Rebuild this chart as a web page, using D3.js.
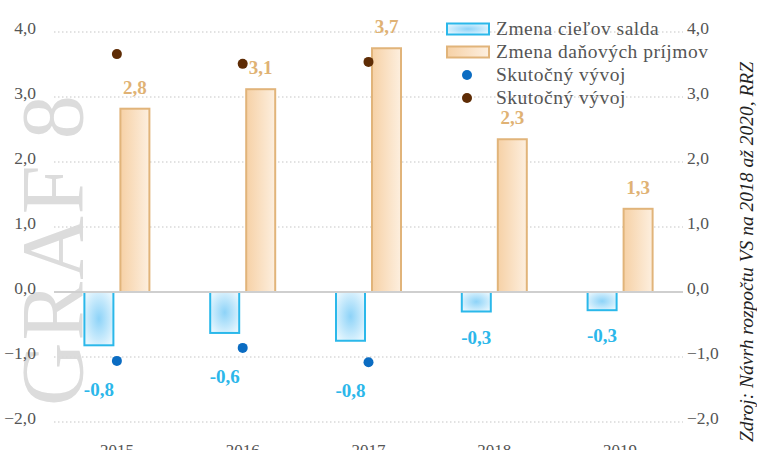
<!DOCTYPE html>
<html>
<head>
<meta charset="utf-8">
<script src="https://cdn.jsdelivr.net/npm/d3@7"></script>
<style>
  body { margin: 0; background: #fff; }
  svg { display: block; font-family: "Liberation Serif", "DejaVu Serif", serif; }
  svg text { font-family: "Liberation Serif", "DejaVu Serif", serif; }
</style>
</head>
<body>
<script>
// Data
var years = ["2015", "2016", "2017", "2018", "2019"];
var saldo = [-0.82, -0.63, -0.75, -0.30, -0.28];          // Zmena cieľov salda
var saldoLabels = ["-0,8", "-0,6", "-0,8", "-0,3", "-0,3"];
var prijmy = [2.82, 3.12, 3.75, 2.35, 1.28];              // Zmena daňových príjmov
var prijmyLabels = ["2,8", "3,1", "3,7", "2,3", "1,3"];
var saldoActual = [-1.06, -0.86, -1.08, null, null];      // Skutočný vývoj (blue)
var prijmyActual = [3.66, 3.51, 3.54, null, null];        // Skutočný vývoj (brown)
var yTicks = [-2, -1, 0, 1, 2, 3, 4];

var width = 757, height = 450;
var left = 54, right = 683;

var svg = d3.select("body").append("svg")
    .attr("width", width)
    .attr("height", height);

var defs = svg.append("defs");
var rg = defs.append("radialGradient").attr("id", "blueFill")
    .attr("cx", "50%").attr("cy", "50%").attr("r", "60%");
rg.append("stop").attr("offset", "0%").attr("stop-color", "#8dd3f8");
rg.append("stop").attr("offset", "100%").attr("stop-color", "#e6f6fe");
var lg = defs.append("linearGradient").attr("id", "orangeFill")
    .attr("x1", "0%").attr("x2", "100%").attr("y1", "0%").attr("y2", "0%");
lg.append("stop").attr("offset", "0%").attr("stop-color", "#f6d1a6");
lg.append("stop").attr("offset", "100%").attr("stop-color", "#fdefdf");

var x = d3.scaleBand().domain(years).range([left, right]);
var y = d3.scaleLinear().domain([-2, 4]).range([422, 32]);

// watermark
svg.append("text")
    .attr("transform", "translate(82,406) rotate(-90)")
    .attr("font-size", 88)
    .attr("fill", "#dcdcdc")
    .attr("letter-spacing", 2)
    .text("GRAF 8");

// gridlines
svg.append("g").selectAll("line")
    .data(yTicks.filter(function(d) { return d !== 0; }))
    .enter().append("line")
    .attr("x1", left).attr("x2", right)
    .attr("y1", function(d) { return y(d); })
    .attr("y2", function(d) { return y(d); })
    .attr("stroke", "#d9d9d9")
    .attr("stroke-width", 1.3)
    .attr("stroke-dasharray", "1.5,2.5");

// left and right axes
var fmt = function(d) { return d3.format(".1f")(d).replace(".", ","); };
var gl = svg.append("g").attr("transform", "translate(36,0)")
    .call(d3.axisLeft(y).tickValues(yTicks).tickSize(0).tickFormat(fmt));
var gr = svg.append("g").attr("transform", "translate(687,0)")
    .call(d3.axisRight(y).tickValues(yTicks).tickSize(0).tickFormat(fmt));
[gl, gr].forEach(function(g) {
  g.attr("font-family", null);
  g.select(".domain").remove();
  g.selectAll("text")
    .attr("x", 0)
    .attr("font-size", 17.5)
    .attr("fill", "#555")
    .attr("dy", "0.1em");
});

var bw = 29;
// blue bars
svg.append("g").selectAll("rect")
    .data(saldo)
    .enter().append("rect")
    .attr("x", function(d, i) { return x(years[i]) + x.bandwidth() / 2 - 3.5 - bw; })
    .attr("y", y(0))
    .attr("width", bw)
    .attr("height", function(d) { return y(d) - y(0); })
    .attr("fill", "url(#blueFill)")
    .attr("stroke", "#2bb8ea")
    .attr("stroke-width", 2);

// orange bars
svg.append("g").selectAll("rect")
    .data(prijmy)
    .enter().append("rect")
    .attr("x", function(d, i) { return x(years[i]) + x.bandwidth() / 2 + 3.5; })
    .attr("y", function(d) { return y(d); })
    .attr("width", bw)
    .attr("height", function(d) { return y(0) - y(d); })
    .attr("fill", "url(#orangeFill)")
    .attr("stroke", "#e1b47a")
    .attr("stroke-width", 2);

// zero line
svg.append("line")
    .attr("x1", left).attr("x2", right)
    .attr("y1", y(0)).attr("y2", y(0))
    .attr("stroke", "#cfcfcf").attr("stroke-width", 2);

// dots
svg.append("g").selectAll("circle")
    .data(saldoActual)
    .enter().filter(function(d) { return d !== null; }).append("circle")
    .attr("cx", function(d, i) { return x(years[i]) + x.bandwidth() / 2; })
    .attr("cy", function(d) { return y(d); })
    .attr("r", 5)
    .attr("fill", "#0b6cc2");
svg.append("g").selectAll("circle")
    .data(prijmyActual)
    .enter().filter(function(d) { return d !== null; }).append("circle")
    .attr("cx", function(d, i) { return x(years[i]) + x.bandwidth() / 2; })
    .attr("cy", function(d) { return y(d); })
    .attr("r", 5)
    .attr("fill", "#5e2c05");

// value labels
svg.append("g").selectAll("text")
    .data(prijmy)
    .enter().append("text")
    .attr("x", function(d, i) { return x(years[i]) + x.bandwidth() / 2 + 3.5 + bw / 2; })
    .attr("y", function(d) { return y(d) - 15; })
    .attr("text-anchor", "middle")
    .attr("font-size", 19)
    .attr("font-weight", "bold")
    .attr("fill", "#e0b274")
    .text(function(d, i) { return prijmyLabels[i]; });

svg.append("g").selectAll("text")
    .data(saldo)
    .enter().append("text")
    .attr("x", function(d, i) { return x(years[i]) + x.bandwidth() / 2 - 3.5 - bw / 2; })
    .attr("y", function(d, i) {
      var low = saldoActual[i] !== null ? Math.min(d, saldoActual[i]) : d;
      return y(low) + (saldoActual[i] !== null ? 35 : 32);
    })
    .attr("text-anchor", "middle")
    .attr("font-size", 19)
    .attr("font-weight", "bold")
    .attr("fill", "#2cb7ea")
    .text(function(d, i) { return saldoLabels[i]; });

// x labels (cut by the bottom edge, as in the original)
svg.append("g").selectAll("text")
    .data(years)
    .enter().append("text")
    .attr("x", function(d) { return x(d) + x.bandwidth() / 2; })
    .attr("y", 456)
    .attr("text-anchor", "middle")
    .attr("font-size", 17)
    .attr("fill", "#555")
    .text(function(d) { return d; });

// legend
var legend = svg.append("g").attr("transform", "translate(447,0)");
var items = [
  { label: "Zmena cieľov salda", type: "rect", fill: "url(#blueFill)", stroke: "#2bb8ea" },
  { label: "Zmena daňových príjmov", type: "rect", fill: "url(#orangeFill)", stroke: "#e1b47a" },
  { label: "Skutočný vývoj", type: "dot", fill: "#0b6cc2" },
  { label: "Skutočný vývoj", type: "dot", fill: "#5e2c05" }
];
items.forEach(function(it, i) {
  var cy = 29 + i * 23;
  if (it.type === "rect") {
    legend.append("rect")
      .attr("x", 0).attr("y", cy - 5.5)
      .attr("width", 42).attr("height", 11)
      .attr("fill", it.fill).attr("stroke", it.stroke).attr("stroke-width", 2);
  } else {
    legend.append("circle")
      .attr("cx", 20).attr("cy", cy).attr("r", 5)
      .attr("fill", it.fill);
  }
  legend.append("text")
    .attr("x", 49).attr("y", cy + 6)
    .attr("font-size", 19.5)
    .attr("letter-spacing", 0.5)
    .attr("fill", "#555")
    .text(it.label);
});

// source
svg.append("text")
    .attr("transform", "translate(753,442) rotate(-90)")
    .attr("font-size", 19.5)
    .attr("font-style", "italic")
    .attr("fill", "#222")
    .text("Zdroj: Návrh rozpočtu VS na 2018 až 2020, RRZ");
</script>
</body>
</html>
